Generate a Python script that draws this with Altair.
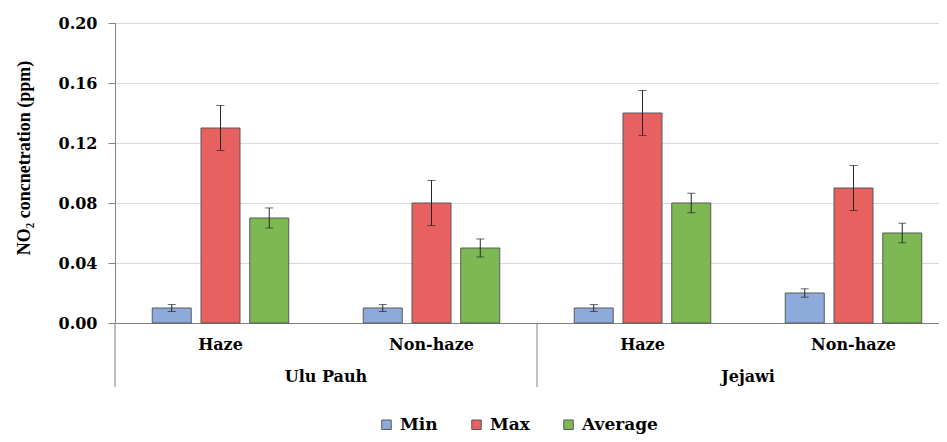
import altair as alt
import pandas as pd

sites = ["Ulu Pauh", "Ulu Pauh", "Jejawi", "Jejawi"]
periods = ["Haze", "Non-haze", "Haze", "Non-haze"]
series = ["Min", "Max", "Average"]
min_vals = [0.010, 0.010, 0.010, 0.020]
max_vals = [0.130, 0.080, 0.140, 0.090]
avg_vals = [0.070, 0.050, 0.080, 0.060]
min_err = [0.0023, 0.0023, 0.0023, 0.0028]
max_err = [0.015, 0.015, 0.015, 0.015]
avg_err = [0.0067, 0.006, 0.0065, 0.0065]
y_ticks = [0.0, 0.04, 0.08, 0.12, 0.16, 0.20]
site_names = ["Ulu Pauh", "Jejawi"]
colors = ["#8eaadb", "#e6615f", "#7db853"]

keys = [f"{s}|{p}" for s, p in zip(sites, periods)]
rows = []
for i, k in enumerate(keys):
    for name, vals, errs in [("Min", min_vals, min_err), ("Max", max_vals, max_err), ("Average", avg_vals, avg_err)]:
        rows.append({"key": k, "series": name, "value": vals[i],
                     "lo": vals[i] - errs[i], "hi": vals[i] + errs[i]})
df = pd.DataFrame(rows)
site_df = pd.DataFrame({"key": [f"{s}|Haze" for s in site_names], "label": site_names})

FONT = "DejaVu Serif"
xscale = alt.Scale(domain=keys, range=[0, 844], paddingInner=0, paddingOuter=0)
x_enc = alt.X("key:N", sort=keys, scale=xscale, title=None,
              axis=alt.Axis(labelExpr="split(datum.label, '|')[1]", ticks=False, tickSize=0,
                            labelPadding=13, labelAngle=0, domainColor="#808080",
                            labelFont=FONT, labelFontWeight="bold", labelFontSize=16,
                            labelColor="black", grid=False))
xoff = alt.XOffset("series:N", sort=series,
                   scale=alt.Scale(domain=series, paddingInner=0.2, paddingOuter=0.764))
y_enc = alt.Y("value:Q", scale=alt.Scale(domain=[0, 0.2]),
              axis=alt.Axis(values=y_ticks, format=".2f", grid=True, gridColor="#d9d9d9",
                            domainColor="#808080", tickColor="#808080", tickSize=7,
                            labelPadding=11, labelFont=FONT, labelFontWeight="bold",
                            labelFontSize=16, labelColor="black",
                            title="NO₂ concnetration (ppm)", titleFont="Liberation Serif",
                            titleFontSize=18, titleFontWeight="bold", titleColor="black",
                            titleX=-91, titleY=134.5, titleAngle=270, titleAlign="center",
                            titleBaseline="middle"))

base = alt.Chart(df)
bars = base.mark_bar(stroke="#595959", strokeWidth=1).encode(
    x=x_enc, xOffset=xoff, y=y_enc,
    color=alt.Color("series:N", sort=series, scale=alt.Scale(domain=series, range=colors),
                    legend=alt.Legend(orient="none", legendX=263, legendY=393,
                                      direction="horizontal", title=None, symbolType="square",
                                      symbolSize=90, symbolStrokeColor="#595959",
                                      symbolStrokeWidth=1, symbolOpacity=1,
                                      labelFont=FONT, labelFontWeight="bold", labelFontSize=17,
                                      labelColor="black", columnPadding=30, labelOffset=5,
                                      padding=0)))
err = base.mark_rule(color="#262626", strokeWidth=1).encode(
    x=x_enc, xOffset=xoff, y="lo:Q", y2="hi:Q")
cap_hi = base.mark_tick(orient="horizontal", size=8, thickness=1, color="#262626").encode(
    x=x_enc, xOffset=xoff, y="hi:Q")
cap_lo = base.mark_tick(orient="horizontal", size=8, thickness=1, color="#262626").encode(
    x=x_enc, xOffset=xoff, y="lo:Q")

site_labels = alt.Chart(site_df).mark_text(font=FONT, fontWeight="bold", fontSize=16,
                                           baseline="middle", color="black").encode(
    x=alt.X("key:N", sort=keys, scale=xscale, bandPosition=1, title=None),
    y=alt.value(354), text="label:N")
separators = alt.Chart(site_df).mark_rule(color="#808080", strokeWidth=1).encode(
    x=alt.X("key:N", sort=keys, scale=xscale, bandPosition=0, title=None),
    y=alt.value(300), y2=alt.value(364))

chart = alt.layer(bars, err, cap_hi, cap_lo, site_labels, separators).properties(
    width=824, height=300,
    autosize=alt.AutoSizeParams(type="none"),
    padding={"left": 107, "top": 15, "right": 0, "bottom": 111},
    background="white",
).configure_view(stroke=None)

chart.save("out.html", embed_options={"renderer": "svg", "actions": False})
